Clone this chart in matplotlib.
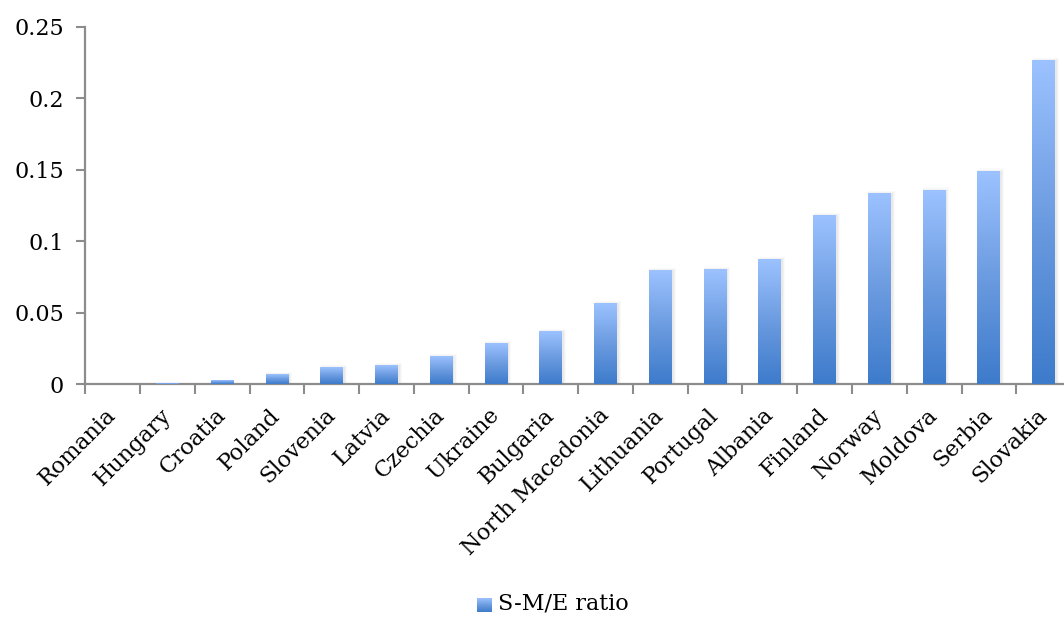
import numpy as np
import matplotlib.pyplot as plt
from matplotlib.colors import LinearSegmentedColormap
from matplotlib.patches import Rectangle

countries = ["Romania", "Hungary", "Croatia", "Poland", "Slovenia", "Latvia",
             "Czechia", "Ukraine", "Bulgaria", "North Macedonia", "Lithuania",
             "Portugal", "Albania", "Finland", "Norway", "Moldova", "Serbia",
             "Slovakia"]
ratios = [0.0, 0.0005, 0.0023, 0.0065, 0.0114, 0.0128, 0.019, 0.0282, 0.0366,
          0.0561, 0.0792, 0.0799, 0.0869, 0.1177, 0.133, 0.1352, 0.1485, 0.226]
yticks = [0, 0.05, 0.1, 0.15, 0.2, 0.25]
ytick_labels = ["0", "0.05", "0.1", "0.15", "0.2", "0.25"]
series_name = "S-M/E ratio"

plt.rcParams['font.family'] = 'DejaVu Serif'
axis_grey = '#8c8c8c'
bar_cmap = LinearSegmentedColormap.from_list(
    'bar_grad', ['#3d7bcb', '#6b9be0', '#9cc2ff'])
grad = np.linspace(0, 1, 256).reshape(-1, 1)

fig = plt.figure(figsize=(10.64, 6.17), dpi=100)
ax = fig.add_axes([0.0803, 0.3771, 0.9263, 0.5796])

width = 0.42
for i, v in enumerate(ratios):
    if v <= 0:
        continue
    # soft shadow to the right of each bar
    if v > 0.003:
        for k, a in [(3, 0.04), (2, 0.06), (1, 0.08)]:
            ax.add_patch(Rectangle((i - width / 2 + 0.01, 0),
                                   width + 0.02 * k, v + 0.0008 * k,
                                   color='#808080', alpha=a, lw=0, zorder=2))
    ax.imshow(grad, cmap=bar_cmap, origin='lower', aspect='auto',
              extent=(i - width / 2, i + width / 2, 0, v), zorder=3)

ax.set_xlim(-0.5, len(countries) - 0.5)
ax.set_ylim(0, 0.25)

for side in ['top', 'right']:
    ax.spines[side].set_visible(False)
for side in ['left', 'bottom']:
    ax.spines[side].set_color(axis_grey)
    ax.spines[side].set_linewidth(1.6)

ax.set_yticks(yticks)
ax.set_yticklabels(ytick_labels, fontsize=16)
ax.tick_params(axis='y', length=6.5, width=1.5, color=axis_grey, pad=9)

ax.set_xticks(np.arange(-0.5, len(countries), 1))
ax.set_xticklabels([])
ax.set_xticks(np.arange(len(countries)), minor=True)
ax.set_xticklabels(countries, minor=True, rotation=45, ha='right',
                   va='center', rotation_mode='anchor', fontsize=16)
ax.tick_params(axis='x', which='major', length=7, width=1.5, color=axis_grey)
ax.tick_params(axis='x', which='minor', length=0, pad=20)

# legend: gradient swatch plus label
lax = fig.add_axes([477 / 1064, 5 / 617, 15 / 1064, 14 / 617])
lax.imshow(grad, cmap=bar_cmap, origin='lower', aspect='auto')
lax.axis('off')
fig.text(498 / 1064, 1 - 604 / 617, series_name, fontsize=16,
         va='center', ha='left')

fig.savefig('out.png', dpi=100)
